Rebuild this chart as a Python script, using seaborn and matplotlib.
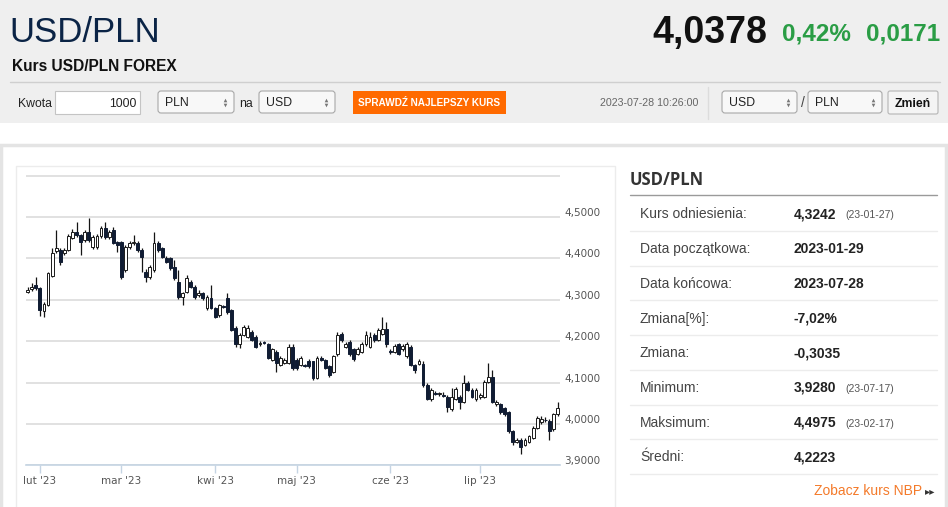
import numpy as np
import pandas as pd
import matplotlib
matplotlib.use("Agg")
import matplotlib.pyplot as plt
from matplotlib.patches import Rectangle, FancyBboxPatch
from matplotlib.transforms import ScaledTranslation
import seaborn as sns

# USD/PLN daily candles, business days 2023-01-27 .. 2023-07-28
dates = pd.bdate_range("2023-01-27", "2023-07-28")

opens = [
    4.320, 4.326, 4.337, 4.329, 4.274, 4.288, 4.358, 4.419, 4.421, 4.414,
    4.421, 4.450, 4.464, 4.457, 4.445, 4.464, 4.428, 4.428, 4.455, 4.474,
    4.452, 4.469, 4.440, 4.440, 4.373, 4.428, 4.438, 4.438, 4.421, 4.368,
    4.356, 4.373, 4.438, 4.426, 4.402, 4.402, 4.380, 4.344, 4.308, 4.320,
    4.344, 4.332, 4.312, 4.317, 4.281, 4.305, 4.281, 4.264, 4.285, 4.305,
    4.276, 4.233, 4.192, 4.216, 4.211, 4.223, 4.211, 4.192, 4.197, 4.192,
    4.155, 4.175, 4.143, 4.148, 4.148, 4.187, 4.155, 4.143, 4.142, 4.151,
    4.151, 4.112, 4.160, 4.155, 4.139, 4.126, 4.168, 4.218, 4.187, 4.199,
    4.180, 4.170, 4.175, 4.192, 4.187, 4.216, 4.204, 4.218, 4.230, 4.177,
    4.175, 4.192, 4.180, 4.163, 4.187, 4.143, 4.146, 4.146, 4.095, 4.060,
    4.074, 4.072, 4.070, 4.066, 4.035, 4.061, 4.066, 4.054, 4.100, 4.083,
    4.060, 4.064, 4.066, 4.102, 4.114, 4.047, 4.047, 4.039, 4.028, 3.982,
    3.957, 3.962, 3.950, 3.957, 3.967, 3.991, 4.004, 4.010, 4.007, 3.987,
    4.023,
]
highs = [
    4.330, 4.341, 4.356, 4.332, 4.295, 4.368, 4.426, 4.469, 4.425, 4.426,
    4.459, 4.470, 4.489, 4.460, 4.468, 4.4975, 4.457, 4.460, 4.478, 4.489,
    4.468, 4.476, 4.443, 4.443, 4.433, 4.443, 4.457, 4.443, 4.426, 4.375,
    4.385, 4.464, 4.443, 4.428, 4.407, 4.404, 4.397, 4.373, 4.320, 4.361,
    4.349, 4.335, 4.324, 4.320, 4.312, 4.337, 4.283, 4.291, 4.288, 4.317,
    4.279, 4.236, 4.220, 4.240, 4.238, 4.227, 4.214, 4.200, 4.201, 4.195,
    4.184, 4.179, 4.165, 4.160, 4.192, 4.192, 4.160, 4.165, 4.146, 4.156,
    4.153, 4.165, 4.165, 4.158, 4.142, 4.167, 4.222, 4.222, 4.198, 4.202,
    4.184, 4.186, 4.198, 4.224, 4.222, 4.220, 4.232, 4.259, 4.247, 4.180,
    4.193, 4.195, 4.193, 4.198, 4.190, 4.146, 4.158, 4.151, 4.098, 4.088,
    4.079, 4.078, 4.076, 4.069, 4.088, 4.090, 4.070, 4.119, 4.104, 4.088,
    4.088, 4.075, 4.106, 4.148, 4.131, 4.058, 4.050, 4.042, 4.031, 3.985,
    3.967, 3.966, 3.966, 3.974, 3.995, 4.020, 4.020, 4.016, 4.012, 4.027,
    4.052,
]
lows = [
    4.316, 4.322, 4.324, 4.262, 4.259, 4.285, 4.355, 4.414, 4.385, 4.409,
    4.418, 4.447, 4.452, 4.409, 4.440, 4.440, 4.424, 4.424, 4.450, 4.448,
    4.448, 4.435, 4.416, 4.351, 4.368, 4.424, 4.433, 4.416, 4.368, 4.344,
    4.351, 4.368, 4.416, 4.400, 4.388, 4.373, 4.349, 4.303, 4.288, 4.317,
    4.329, 4.303, 4.308, 4.300, 4.276, 4.278, 4.255, 4.259, 4.280, 4.266,
    4.224, 4.187, 4.184, 4.212, 4.208, 4.200, 4.183, 4.189, 4.192, 4.156,
    4.151, 4.126, 4.139, 4.144, 4.144, 4.131, 4.131, 4.139, 4.137, 4.135,
    4.107, 4.108, 4.151, 4.132, 4.114, 4.122, 4.163, 4.199, 4.183, 4.163,
    4.153, 4.166, 4.171, 4.188, 4.183, 4.199, 4.200, 4.214, 4.187, 4.168,
    4.171, 4.166, 4.176, 4.159, 4.139, 4.122, 4.142, 4.090, 4.057, 4.055,
    4.069, 4.068, 4.064, 4.030, 4.031, 4.058, 4.035, 4.050, 4.079, 4.062,
    4.055, 4.060, 4.062, 4.099, 4.050, 4.043, 4.024, 4.018, 3.978, 3.950,
    3.953, 3.928, 3.946, 3.953, 3.963, 3.987, 4.000, 4.004, 3.962, 3.983,
    4.020,
]
closes = [
    4.324, 4.332, 4.329, 4.276, 4.291, 4.365, 4.414, 4.426, 4.392, 4.421,
    4.455, 4.464, 4.457, 4.440, 4.464, 4.445, 4.452, 4.455, 4.474, 4.452,
    4.464, 4.438, 4.433, 4.356, 4.428, 4.438, 4.440, 4.421, 4.404, 4.356,
    4.380, 4.438, 4.421, 4.404, 4.392, 4.378, 4.353, 4.308, 4.317, 4.353,
    4.332, 4.308, 4.317, 4.305, 4.308, 4.281, 4.259, 4.288, 4.283, 4.271,
    4.228, 4.192, 4.216, 4.235, 4.233, 4.204, 4.187, 4.196, 4.195, 4.160,
    4.180, 4.148, 4.160, 4.155, 4.187, 4.136, 4.136, 4.160, 4.141, 4.139,
    4.112, 4.160, 4.155, 4.136, 4.119, 4.163, 4.216, 4.204, 4.194, 4.168,
    4.158, 4.182, 4.194, 4.216, 4.211, 4.204, 4.228, 4.230, 4.192, 4.175,
    4.189, 4.170, 4.189, 4.194, 4.143, 4.131, 4.151, 4.095, 4.061, 4.083,
    4.073, 4.074, 4.068, 4.042, 4.066, 4.085, 4.054, 4.100, 4.083, 4.066,
    4.083, 4.071, 4.102, 4.114, 4.054, 4.054, 4.028, 4.023, 3.982, 3.957,
    3.962, 3.945, 3.962, 3.970, 3.991, 4.015, 4.012, 4.009, 3.982, 4.023,
    4.038,
]

month_labels = ["lut '23", "mar '23", "kwi '23", "maj '23", "cze '23", "lip '23"]
grid_levels = [4.6, 4.5, 4.4, 4.3, 4.2, 4.1, 4.0, 3.9]

stat_labels = ["Kurs odniesienia:", "Data początkowa:", "Data końcowa:", "Zmiana[%]:",
               "Zmiana:", "Minimum:", "Maksimum:", "Średni:"]
stat_values = ["4,3242", "2023-01-29", "2023-07-28", "-7,02%", "-0,3035",
               "3,9280", "4,4975", "4,2223"]
stat_notes = ["(23-01-27)", "", "", "", "", "(23-07-17)", "(23-02-17)", ""]

NARROW = ["Liberation Sans Narrow", "Liberation Sans", "DejaVu Sans"]
ARIAL = ["Liberation Sans", "DejaVu Sans"]


def select_box(page, x0, x1, label):
    page.add_patch(FancyBboxPatch((x0, 91), x1 - x0, 22, boxstyle="round,pad=0,rounding_size=3",
                                  fc="#f8f8f8", ec="#a8a8a8", lw=0.8))
    page.text(x0 + 7, 106, label, family=NARROW, fontsize=8.8, color="#222", va="baseline")
    page.plot([x1 - 9], [99.5], marker="^", ms=2.6, color="#777", mew=0)
    page.plot([x1 - 9], [104.5], marker="v", ms=2.6, color="#777", mew=0)


def draw_page(page):
    page.add_patch(Rectangle((0, 0), 948, 123, fc="#efefef", ec="none"))
    page.add_patch(Rectangle((1.5, 145), 945, 380, fc="white", ec="#e4e4e4", lw=2.5))
    page.add_patch(Rectangle((16, 166), 599, 380, fc="white", ec="#ececec", lw=1))

    page.text(9, 42, "USD/PLN", family=NARROW, fontsize=25, color="#0b2446", va="baseline")
    page.text(652, 43, "4,0378", family=NARROW, fontsize=27, weight="bold", color="#111", va="baseline")
    page.text(782, 41, "0,42%", family=NARROW, fontsize=17.5, weight="bold", color="#2a9d45", va="baseline")
    page.text(866, 41, "0,0171", family=NARROW, fontsize=17.5, weight="bold", color="#2a9d45", va="baseline")
    page.text(12, 71, "Kurs USD/PLN FOREX", family=NARROW, fontsize=11.2, weight="bold", color="#111", va="baseline")
    page.plot([10, 940], [82, 82], color="#cfcfcf", lw=1)

    page.text(18, 107, "Kwota", family=NARROW, fontsize=8.8, color="#222", va="baseline")
    page.add_patch(Rectangle((55, 91), 85, 23, fc="white", ec="#c4c4c4", lw=0.8))
    page.text(137, 107, "1000", family=NARROW, fontsize=8.8, color="#222", ha="right", va="baseline")
    select_box(page, 158, 234, "PLN")
    page.text(239, 107, "na", family=NARROW, fontsize=8.8, color="#222", va="baseline")
    select_box(page, 259, 335, "USD")
    page.add_patch(Rectangle((353, 91), 153, 23, fc="#ff6a00", ec="none"))
    page.text(429.5, 106, "SPRAWDŹ NAJLEPSZY KURS", family=NARROW, fontsize=7.2, weight="bold",
              color="white", ha="center", va="baseline")
    page.text(600, 106.5, "2023-07-28 10:26:00", family=NARROW, fontsize=7.7, color="#666", va="baseline")
    page.plot([708, 708], [87, 119], color="#dcdcdc", lw=1)
    select_box(page, 722, 797, "USD")
    page.text(801, 107, "/", family=NARROW, fontsize=10, color="#444", va="baseline")
    select_box(page, 808, 882, "PLN")
    page.add_patch(FancyBboxPatch((888, 91), 50, 23, boxstyle="round,pad=0,rounding_size=2",
                                  fc="#f4f4f4", ec="#b5b5b5", lw=0.8))
    page.text(913, 107, "Zmień", family=NARROW, fontsize=8.8, weight="bold", color="#111",
              ha="center", va="baseline")

    # stats panel
    page.text(630, 185, "USD/PLN", family=["Open Sans", "DejaVu Sans"], fontsize=12, weight="bold",
              color="#333", va="baseline")
    page.plot([630, 937], [195, 195], color="#9a9a9a", lw=1)
    for k, (lab, val, note) in enumerate(zip(stat_labels, stat_values, stat_notes)):
        yc = 213.5 + k * 34.7
        page.text(640, yc + 5, lab, family=ARIAL, fontsize=10, color="#444", va="baseline")
        page.text(794, yc + 5, val, family=ARIAL, fontsize=10, weight="bold", color="#222", va="baseline")
        if note:
            page.text(845, yc + 5, note, family=ARIAL, fontsize=7.5, color="#555", va="baseline")
        page.plot([630, 937], [yc + 17.5, yc + 17.5], color="#ececec", lw=1)
    page.text(922, 495, "Zobacz kurs NBP", family=ARIAL, fontsize=10, color="#f47a2a",
              ha="right", va="baseline")
    page.text(925, 494, "▸▸", family=["DejaVu Sans"], fontsize=7.5, color="#333", va="baseline")


def draw_candles(ax, df):
    up = df["close"] >= df["open"]
    body = (df["close"] - df["open"]).abs().clip(lower=0.0012)
    bottom = df[["open", "close"]].min(axis=1)
    ax.vlines(df["pos"], df["low"], df["high"], color="#141414", lw=0.9, zorder=3)
    ax.bar(df["pos"][up], body[up], bottom=bottom[up], width=0.7, color="white",
           edgecolor="#1a1a1a", lw=0.7, zorder=4)
    ax.bar(df["pos"][~up], body[~up], bottom=bottom[~up], width=0.7, color="#101c33",
           edgecolor="#101c33", lw=0.7, zorder=4)


def main():
    sns.set_theme(style="white")
    plt.rcParams["font.family"] = ["DejaVu Sans"]

    df = pd.DataFrame({"date": dates, "open": opens, "high": highs, "low": lows, "close": closes})
    df["pos"] = np.arange(len(df))

    fig = plt.figure(figsize=(9.48, 5.07), dpi=100)
    page = fig.add_axes([0, 0, 1, 1], zorder=0)
    page.set_xlim(0, 948)
    page.set_ylim(507, 0)
    page.axis("off")
    draw_page(page)

    top_px, bot_px = 174.7, 465.3
    ax = fig.add_axes([26 / 948, (507 - bot_px) / 507, 534 / 948, (bot_px - top_px) / 507], zorder=2)
    ax.patch.set_alpha(0)
    draw_candles(ax, df)
    ax.set_xlim(-0.4, len(df) - 0.4)
    ax.set_ylim(3.9, 4.6 + 1 / 414)

    # month ticks at first session of each month (Jan excluded)
    first = df.groupby(df["date"].dt.month)["pos"].min()
    ax.set_xticks(first.loc[2:7].values)
    ax.set_xticklabels(month_labels)
    ax.tick_params(axis="x", direction="out", length=6, width=1, color="#c5d4e3",
                   labelcolor="#555", labelsize=7.5, pad=1.5, bottom=True)

    ax.yaxis.tick_right()
    ax.set_yticks(grid_levels)
    ax.set_yticklabels([""] + [f"{v:.4f}".replace(".", ",") for v in grid_levels[1:]])
    ax.tick_params(axis="y", length=0, labelcolor="#555", labelsize=7.5, pad=3)
    shift = ScaledTranslation(0, 5 / 100, fig.dpi_scale_trans)
    for lab in ax.get_yticklabels():
        lab.set_transform(lab.get_transform() + shift)
    ax.grid(axis="y", color="#dedede", lw=1.3)
    ax.grid(axis="x", visible=False)
    sns.despine(ax=ax, left=True, top=True, right=True)
    ax.spines["bottom"].set_color("#c5d4e3")
    ax.spines["bottom"].set_linewidth(1.2)
    ax.spines["bottom"].set_zorder(5)

    fig.savefig("out.png", dpi=100)


if __name__ == "__main__":
    main()
